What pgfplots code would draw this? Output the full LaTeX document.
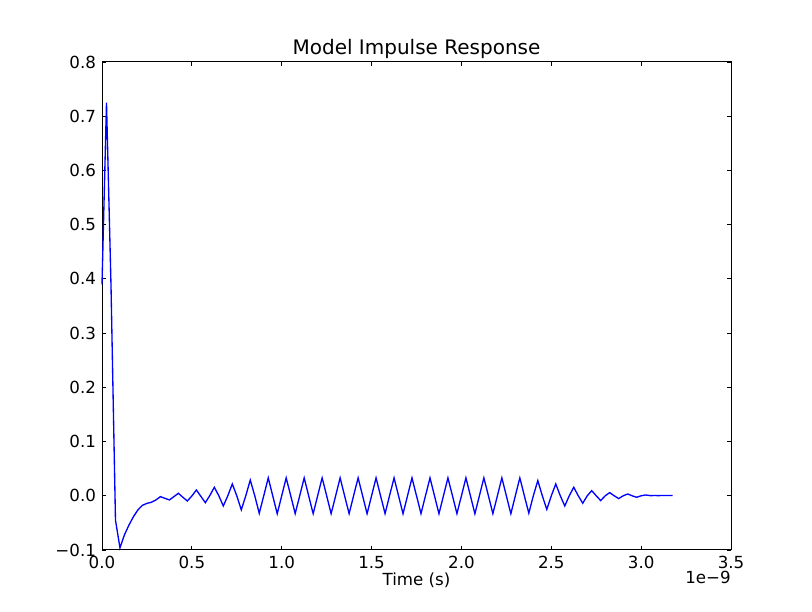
\documentclass[border=0pt]{standalone}
\usepackage{fontspec}
\setmainfont{DejaVu Sans}
\usepackage{pgfplots}
\pgfplotsset{compat=1.18}

\begin{document}
\begin{tikzpicture}
\begin{axis}[
  name=ax,
  scale only axis,
  width=471.75pt, height=366pt,
  xmin=0, xmax=3.5, ymin=-0.1, ymax=0.8,
  xtick={0,0.5,1,1.5,2,2.5,3,3.5},
  xticklabels={0.0,0.5,1.0,1.5,2.0,2.5,3.0,3.5},
  ytick={-0.1,0,0.1,0.2,0.3,0.4,0.5,0.6,0.7,0.8},
  yticklabels={−0.1,0.0,0.1,0.2,0.3,0.4,0.5,0.6,0.7,0.8},
  tick align=inside,
  major tick length=3pt,
  tick style={black, line width=0.6pt},
  axis line style={black, line width=0.75pt},
  ticklabel style={font=\fontsize{12.5}{15}\selectfont},
  xticklabel style={yshift=-1pt},
  yticklabel style={xshift=-1pt},
  title={Model Impulse Response},
  title style={font=\fontsize{15}{18}\selectfont, yshift=-7pt},
  xlabel={Time (s)},
  xlabel style={font=\fontsize{12.5}{15}\selectfont, yshift=3.5pt},
  clip=false,
]
\addplot[color={rgb,255:red,0;green,0;blue,255}, line width=1pt] coordinates {
(0.000,0.39) (0.025,0.725) (0.050,0.389) (0.075,-0.045) (0.100,-0.096)
(0.125,-0.072) (0.150,-0.054) (0.175,-0.0385) (0.200,-0.026) (0.225,-0.0176)
(0.250,-0.014) (0.275,-0.012) (0.300,-0.0077) (0.325,-0.0016) (0.350,-0.0047)
(0.375,-0.0077) (0.400,-0.0016) (0.425,0.0046) (0.450,-0.0028) (0.475,-0.0096)
(0.500,-0.0004) (0.525,0.0107) (0.550,-0.001) (0.575,-0.0127) (0.600,0.0005)
(0.625,0.0157) (0.650,0) (0.675,-0.0188) (0.700,0) (0.725,0.0218)
(0.750,0) (0.775,-0.026) (0.800,0) (0.825,0.029) (0.850,0)
(0.875,-0.0323) (0.900,0) (0.925,0.033) (0.950,0) (0.975,-0.033)
(1.000,0) (1.025,0.033) (1.050,0) (1.075,-0.033) (1.100,0)
(1.125,0.033) (1.150,0) (1.175,-0.033) (1.200,0) (1.225,0.033)
(1.250,0) (1.275,-0.033) (1.300,0) (1.325,0.033) (1.350,0)
(1.375,-0.033) (1.400,0) (1.425,0.033) (1.450,0) (1.475,-0.033)
(1.500,0) (1.525,0.033) (1.550,0) (1.575,-0.033) (1.600,0)
(1.625,0.033) (1.650,0) (1.675,-0.033) (1.700,0) (1.725,0.033)
(1.750,0) (1.775,-0.033) (1.800,0) (1.825,0.033) (1.850,0)
(1.875,-0.033) (1.900,0) (1.925,0.033) (1.950,0) (1.975,-0.033)
(2.000,0) (2.025,0.033) (2.050,0) (2.075,-0.033) (2.100,0)
(2.125,0.033) (2.150,0) (2.175,-0.033) (2.200,0) (2.225,0.033)
(2.250,0) (2.275,-0.033) (2.300,0) (2.325,0.033) (2.350,0)
(2.375,-0.032) (2.400,0) (2.425,0.028) (2.450,0) (2.475,-0.025)
(2.500,0) (2.525,0.0218) (2.550,0) (2.575,-0.0188) (2.600,0)
(2.625,0.0157) (2.650,0) (2.675,-0.0138) (2.700,0) (2.725,0.0094)
(2.750,0) (2.775,-0.0089) (2.800,0) (2.825,0.0058) (2.850,0)
(2.875,-0.0052) (2.900,0) (2.925,0.0033) (2.950,0) (2.975,-0.0028)
(3.000,0) (3.025,0.0015) (3.050,0.0003) (3.075,0.0004) (3.100,0.0003)
(3.125,0.0006) (3.150,0.0004) (3.175,0.0004)
};
\end{axis}
\node[anchor=north east, font=\fontsize{12.5}{15}\selectfont, inner sep=0pt]
  at ([yshift=-16pt]ax.south east) {1e−9};
\pgfresetboundingbox
\path[use as bounding box] ([shift={(-76.5pt,-46.5pt)}]ax.south west)
  rectangle ([shift={(60.75pt,46.5pt)}]ax.north east);
\end{tikzpicture}
\end{document}
